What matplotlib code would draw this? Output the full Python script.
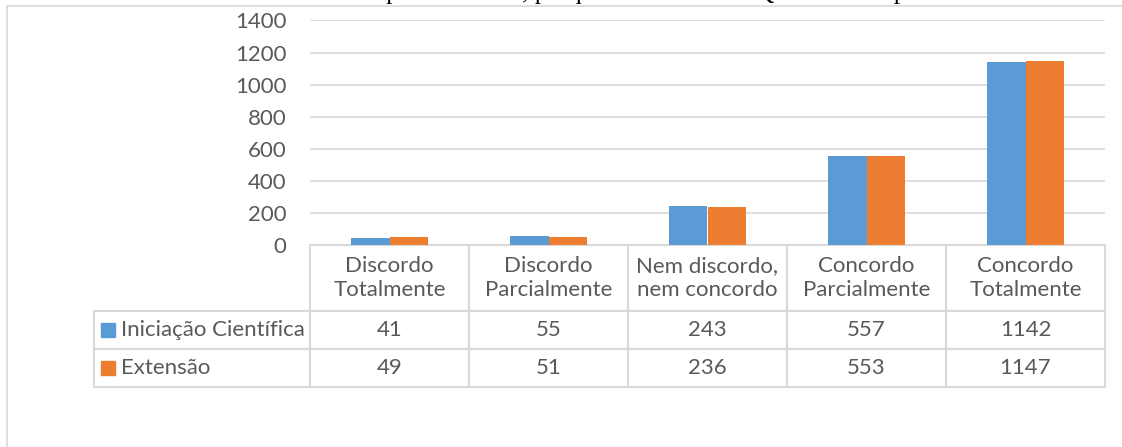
import matplotlib
matplotlib.use("Agg")
import matplotlib.pyplot as plt
from matplotlib.patches import Rectangle
import numpy as np

categories = ["Discordo\nTotalmente", "Discordo\nParcialmente", "Nem discordo,\nnem concordo",
              "Concordo\nParcialmente", "Concordo\nTotalmente"]
series_names = ["Iniciação Científica", "Extensão"]
iniciacao = [41, 55, 243, 557, 1142]
extensao = [49, 51, 236, 553, 1147]
colors = ["#5B9BD5", "#ED7D31"]
yticks = [0, 200, 400, 600, 800, 1000, 1200, 1400]
title = "Gráfico 11 - Atividades para o ensino, pesquisa e extensão / Questionário para Discentes"

W, H = 1122, 447
plt.rcParams['font.family'] = ['Lato', 'DejaVu Sans']
TXT = "#595959"
GRID = "#D9D9D9"
FS = 16

fig = plt.figure(figsize=(W / 100, H / 100), dpi=100)
fig.patch.set_facecolor("white")

# chart frame (clipped at right and bottom)
fig.patches.append(Rectangle((7 / W, -0.1), 1.2, 1 - 6 / H + 0.1, transform=fig.transFigure,
                             fill=False, edgecolor=GRID, linewidth=1.2))

# cut-off title at the top
fig.text(0.5 * (140 + 1045) / W, 1 + 1.0 / H, title, family="Liberation Serif", fontsize=18.4,
         ha="center", va="baseline", color="black")

ax_l, ax_r, ax_t, ax_b = 310, 1105, 20.5, 245
ax = fig.add_axes([ax_l / W, 1 - ax_b / H, (ax_r - ax_l) / W, (ax_b - ax_t) / H])
x = np.arange(len(categories))
bw = 0.24
ax.bar(x - bw / 2, iniciacao, width=bw, color=colors[0], zorder=3)
ax.bar(x + bw / 2, extensao, width=bw, color=colors[1], zorder=3)
ax.set_xlim(-0.5, len(categories) - 0.5)
ax.set_ylim(0, 1400)
ax.set_yticks(yticks)
ax.set_yticklabels([str(t) for t in yticks], color=TXT, fontsize=FS)
ax.tick_params(axis="y", length=0, pad=17)
ax.set_xticks([])
ax.yaxis.grid(True, color=GRID, linewidth=1.2, zorder=0)
for s in ax.spines.values():
    s.set_visible(False)

# data table (sizes in axes units)
cell_text = [[str(v) for v in iniciacao], [str(v) for v in extensao]]
axw = ax_r - ax_l
axh = ax_b - ax_t
tab_bottom = 387
hdr_h, row_h = 66 / axh, 38 / axh
lab_w, col_w = 216 / axw, 1 / len(categories)
tbl = ax.table(cellText=cell_text, rowLabels=series_names, colLabels=categories,
               colWidths=[col_w] * len(categories),
               cellLoc="center", rowLoc="left",
               bbox=[0, -(tab_bottom - ax_b) / axh, 1, (tab_bottom - ax_b) / axh])
tbl._autoColumns = [c for c in tbl._autoColumns if c != -1]
tbl.auto_set_font_size(False)
for (r, c), cell in tbl.get_celld().items():
    cell.set_edgecolor(GRID)
    cell.set_linewidth(1.5)
    cell.get_text().set_color(TXT)
    cell.get_text().set_fontsize(FS)
    cell.set_height(hdr_h if r == 0 else row_h)
    cell.set_width(lab_w if c == -1 else col_w)
    if r == 0:
        cell.get_text().set_linespacing(1.2)
    if c == -1:
        cell.PAD = 27 / 216

# legend keys in the table
for i, col in enumerate(colors):
    yc = 66 + 38 * i + 38 / 2 + ax_b
    ax.add_patch(Rectangle(((101 - ax_l) / axw, (ax_b - (yc + 7)) / axh), 14 / axw, 14 / axh,
                           transform=ax.transAxes, color=col, clip_on=False, zorder=5))

fig.savefig("out.png", dpi=100)
